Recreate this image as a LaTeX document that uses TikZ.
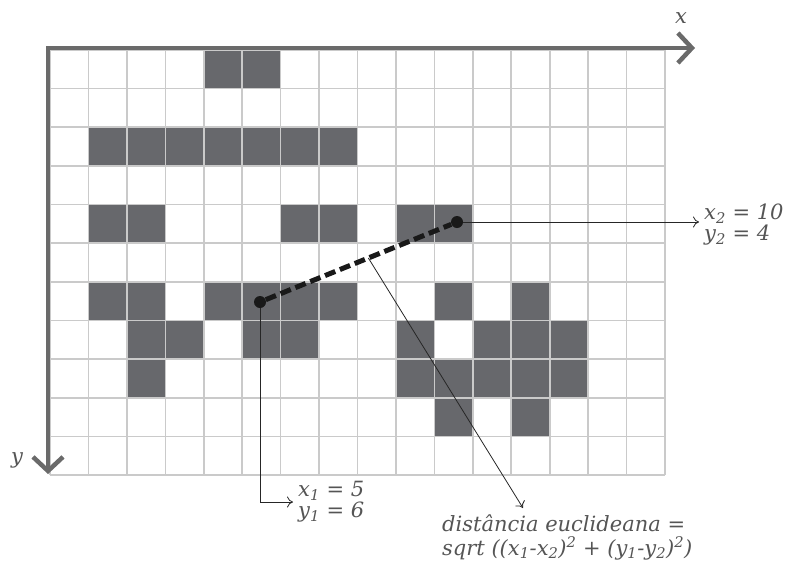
\documentclass[tikz,border=0pt]{standalone}
\usepackage{fontspec}
\setmainfont{DejaVu Serif}
\usepackage{tikz}
\usetikzlibrary{arrows.meta,calc}
\definecolor{cellgray}{HTML}{67686C}
\definecolor{gridgray}{HTML}{CACACA}
\definecolor{axisgray}{HTML}{6A6A6A}
\definecolor{textgray}{HTML}{555555}

\begin{document}
\begin{tikzpicture}[
    x=1pt, y=-1pt,
    every node/.style={font=\fontsize{21}{21}\selectfont\itshape,
                       text=textgray, inner sep=0pt},
    cellbox/.style={fill=cellgray},
    gridline/.style={draw=gridgray, line width=1.6pt},
    axisline/.style={draw=axisgray, line width=4.5pt, line join=miter,
                     {Straight Barb[length=14pt,width=30pt]}-{Straight Barb[length=14pt,width=30pt]}},
    pointer/.style={draw=black!85, line width=0.8pt,
                    -{To[length=6pt,width=11pt]}},
    dot/.style={circle, fill=black!90, minimum size=12pt},
  ]
  \useasboundingbox (0,0) rectangle (790,566);

  % pixel grid
  \begin{scope}[shift={(50pt,-50pt)}, x=38.44pt, y=-38.64pt]
    \foreach \c/\r in {4/0,5/0,
                       1/2,2/2,3/2,4/2,5/2,6/2,7/2,
                       1/4,2/4,6/4,7/4,9/4,10/4,
                       1/6,2/6,4/6,5/6,6/6,7/6,10/6,12/6,
                       2/7,3/7,5/7,6/7,9/7,11/7,12/7,13/7,
                       2/8,9/8,10/8,11/8,12/8,13/8,
                       10/9,12/9}
      \fill[cellbox] (\c,\r) rectangle ++(1,1);
    \foreach \i in {0,...,16}
      \draw[gridline] (\i,0) -- (\i,11);
    \foreach \j in {0,...,11}
      \draw[gridline] (0,\j) -- (16,\j);
  \end{scope}

  % axes
  \coordinate (origin) at (48,48);
  \coordinate (xend) at (695,48);
  \coordinate (yend) at (48,474);
  \draw[axisline] (xend) -- (origin) -- (yend);
  \node (xlab) at (681,18) {x};
  \node (ylab) at (17,460) {y};

  % the two points and their distance
  \node[dot] (p1) at (260,302) {};
  \node[dot] (p2) at (457,222) {};
  \draw[black!90, line width=5pt, dash pattern=on 11pt off 5pt] (p1) -- (p2);
  \coordinate (mid) at ($(p1)!0.55!(p2)$);

  % labels
  \node[anchor=west, align=left] (lab2) at (704,225)
    {x\textsubscript{2} = 10\\y\textsubscript{2} = 4};
  \node[anchor=west, align=left] (lab1) at (298,502)
    {x\textsubscript{1} = 5\\y\textsubscript{1} = 6};
  \node[anchor=north west, align=left, font=\fontsize{21}{24}\selectfont\itshape] (lab3) at (442,514)
    {distância euclideana =\\sqrt ((x\textsubscript{1}-x\textsubscript{2})\textsuperscript{2} + (y\textsubscript{1}-y\textsubscript{2})\textsuperscript{2})};
  \coordinate (tip) at (523,508);

  \draw[pointer, shorten >=5pt] (p2) -- (p2 -| lab2.west);
  \draw[pointer, shorten >=5pt] (p1) |- (lab1.west);
  \draw[pointer] (mid) -- (tip);
\end{tikzpicture}
\end{document}
